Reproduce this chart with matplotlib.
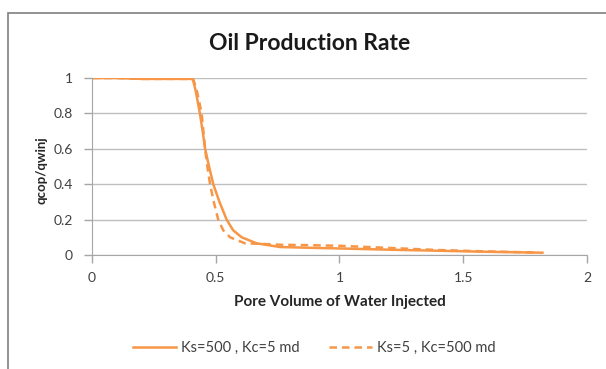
import matplotlib.pyplot as plt
from matplotlib.patches import Rectangle
from matplotlib.lines import Line2D

plt.rcParams['font.family'] = ['Lato', 'DejaVu Sans']

# pore volume injected vs normalised oil rate
pv_solid = [0.0, 0.10, 0.20, 0.30, 0.405, 0.41, 0.42, 0.436, 0.447, 0.457, 0.473, 0.49,
            0.515, 0.544, 0.57, 0.605, 0.665, 0.76, 0.90, 1.00, 1.20, 1.40, 1.60, 1.82]
q_solid = [1.0, 1.0, 0.995, 0.995, 0.995, 0.98, 0.92, 0.80, 0.70, 0.60, 0.50, 0.40,
           0.30, 0.20, 0.14, 0.10, 0.066, 0.045, 0.04, 0.037, 0.03, 0.024, 0.018, 0.013]

pv_dash = [0.0, 0.10, 0.20, 0.30, 0.405, 0.41, 0.425, 0.443, 0.45, 0.457, 0.466, 0.477,
           0.492, 0.51, 0.53, 0.558, 0.618, 0.70, 0.76, 0.90, 1.00, 1.20, 1.40, 1.60, 1.80]
q_dash = [1.0, 1.0, 0.995, 0.995, 0.995, 0.99, 0.92, 0.80, 0.70, 0.60, 0.50, 0.40,
          0.30, 0.20, 0.14, 0.10, 0.066, 0.062, 0.058, 0.055, 0.052, 0.04, 0.028, 0.02, 0.014]

labels = ['Ks=500 , Kc=5 md', 'Ks=5 , Kc=500 md']
orange = '#F79646'

W, H = 606, 369
fig = plt.figure(figsize=(W / 100, H / 100), dpi=100)

# outer chart frame
fig.patches.append(Rectangle((8 / W, -0.1), 1.2, 1 - 13 / H + 0.1, transform=fig.transFigure,
                             fill=False, edgecolor='#7f7f7f', linewidth=1.2))

ax = fig.add_axes([92 / W, 1 - 255 / H, (587 - 92) / W, (255 - 78) / H])
ax.plot(pv_solid, q_solid, color=orange, linewidth=1.8, solid_joinstyle='round')
ax.plot(pv_dash, q_dash, color=orange, linewidth=1.8, linestyle=(0, (3, 2)))

ax.set_xlim(0, 2)
ax.set_ylim(0, 1)
ax.set_xticks([0, 0.5, 1, 1.5, 2])
ax.set_xticklabels(['0', '0.5', '1', '1.5', '2'])
ax.set_yticks([0, 0.2, 0.4, 0.6, 0.8, 1])
ax.set_yticklabels(['0', '0.2', '0.4', '0.6', '0.8', '1'])
ax.yaxis.grid(True, color='#bfbfbf', linewidth=1.0)
ax.set_axisbelow(True)
for s in ['top', 'right']:
    ax.spines[s].set_visible(False)
ax.spines['left'].set_color('#a6a6a6')
ax.spines['bottom'].set_color('#a6a6a6')
ax.tick_params(axis='both', colors='#a6a6a6', labelcolor='#404040', labelsize=10, length=6, width=1)
ax.tick_params(axis='y', pad=8)
ax.tick_params(axis='x', pad=6)

fig.text(310 / W, 1 - 44 / H, 'Oil Production Rate', ha='center', va='center',
         fontsize=16.5, fontweight='bold', color='#1a1a1a')
fig.text(41 / W, 1 - 170 / H, 'qcop/qwinj', ha='center', va='center', rotation=90,
         fontsize=9.5, fontweight='bold', color='#262626')
fig.text(340 / W, 1 - 302 / H, 'Pore Volume of Water Injected', ha='center', va='center',
         fontsize=11, fontweight='bold', color='#262626')

handles = [Line2D([], [], color=orange, linewidth=1.8),
           Line2D([], [], color=orange, linewidth=1.8, linestyle=(0, (3, 2)))]
fig.legend(handles, labels, loc='center', bbox_to_anchor=(314 / W, 1 - 348 / H), ncol=2,
           frameon=False, fontsize=10.5, handlelength=3.0, columnspacing=2.0, handletextpad=0.3,
           labelcolor='#404040')

fig.savefig('out.png', dpi=100)
